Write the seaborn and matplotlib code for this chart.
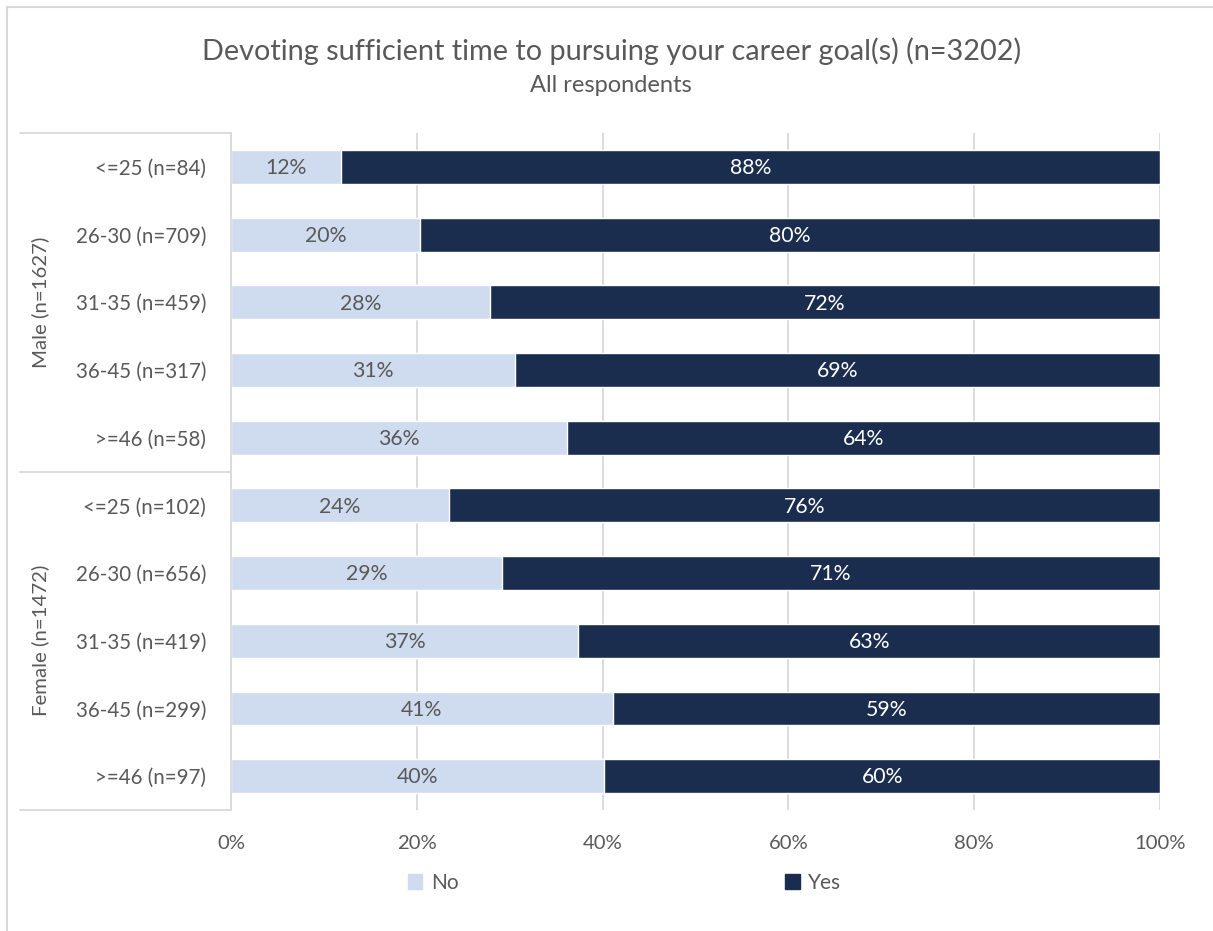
import pandas as pd
import matplotlib.pyplot as plt
import seaborn as sns
from matplotlib.patches import Patch
from matplotlib.lines import Line2D

# Data
age_groups = ["<=25 (n=84)", "26-30 (n=709)", "31-35 (n=459)", "36-45 (n=317)", ">=46 (n=58)",
              "<=25 (n=102)", "26-30 (n=656)", "31-35 (n=419)", "36-45 (n=299)", ">=46 (n=97)"]
gender_groups = ["Male (n=1627)", "Female (n=1472)"]
no_pct = [11.8, 20.3, 27.9, 30.6, 36.2, 23.5, 29.2, 37.4, 41.1, 40.2]
yes_pct = [100 - v for v in no_pct]
x_ticks = [0, 20, 40, 60, 80, 100]

df = pd.DataFrame({"group": age_groups, "No": no_pct, "Yes": yes_pct})
df["total"] = df["No"] + df["Yes"]

light = "#cfdcef"
dark = "#1b2d4f"
grey = "#595959"
line_c = "#d9d9d9"

sns.set_theme(style="white")
plt.rcParams["font.family"] = ["Lato", "DejaVu Sans"]

fig = plt.figure(figsize=(12.13, 9.31), dpi=100)
ax = fig.add_axes([0.1904, 0.13, 0.7659, 0.727])

sns.barplot(data=df, x="total", y="group", orient="h", color=dark, width=0.5,
            saturation=1, ax=ax, order=age_groups)
sns.barplot(data=df, x="No", y="group", orient="h", color=light, width=0.5,
            saturation=1, ax=ax, order=age_groups)

# value labels
for i, (n, y) in enumerate(zip(no_pct, yes_pct)):
    ax.text(n / 2, i + 0.02, f"{n:.0f}%", ha="center", va="center", color=grey, fontsize=15.3)
    ax.text(n + y / 2, i + 0.02, f"{y:.0f}%", ha="center", va="center", color="white", fontsize=15.3)

ax.set_xlim(0, 100)
ax.set_ylim(9.5, -0.5)
ax.set_xticks(x_ticks)
ax.set_xticklabels([f"{t}%" for t in x_ticks], color=grey, fontsize=14.6)
ax.tick_params(axis="x", length=0, pad=18)
ax.tick_params(axis="y", length=0, pad=18, labelsize=14.8, labelcolor=grey)
ax.set_xlabel("")
ax.set_ylabel("")
ax.xaxis.grid(True, color=line_c, linewidth=1.3)
ax.set_axisbelow(True)
for s in ["top", "right", "bottom"]:
    ax.spines[s].set_visible(False)
ax.spines["left"].set_color(line_c)
ax.spines["left"].set_linewidth(1.3)

# group separators and labels
for yy in [1.0, 0.5, 0.0]:
    ax.plot([-0.227, 0], [yy, yy], transform=ax.transAxes, color=line_c,
            linewidth=1.3, clip_on=False)
ax.text(-0.205, 0.75, gender_groups[0], transform=ax.transAxes, rotation=90,
        ha="center", va="center", color=grey, fontsize=14.7)
ax.text(-0.205, 0.25, gender_groups[1], transform=ax.transAxes, rotation=90,
        ha="center", va="center", color=grey, fontsize=14.7)

fig.text(0.504, 0.945, "Devoting sufficient time to pursuing your career goal(s) (n=3202)",
         ha="center", va="center", color=grey, fontsize=20.8)
fig.text(0.504, 0.908, "All respondents", ha="center", va="center", color=grey, fontsize=17)

handles = [Patch(color=light, label="No"), Patch(color=dark, label="Yes")]
fig.legend(handles=handles, loc="center", bbox_to_anchor=(0.515, 0.052), ncol=2,
           frameon=False, fontsize=15, handlelength=0.7, handleheight=0.7,
           handletextpad=0.4, columnspacing=15.7, labelcolor=grey)

# outer chart border
fig.add_artist(Line2D([0.006, 0.006], [0.0, 0.992], color=line_c, linewidth=1.5))
fig.add_artist(Line2D([0.006, 1.0], [0.992, 0.992], color=line_c, linewidth=1.5))

fig.savefig("out.png", dpi=100)
